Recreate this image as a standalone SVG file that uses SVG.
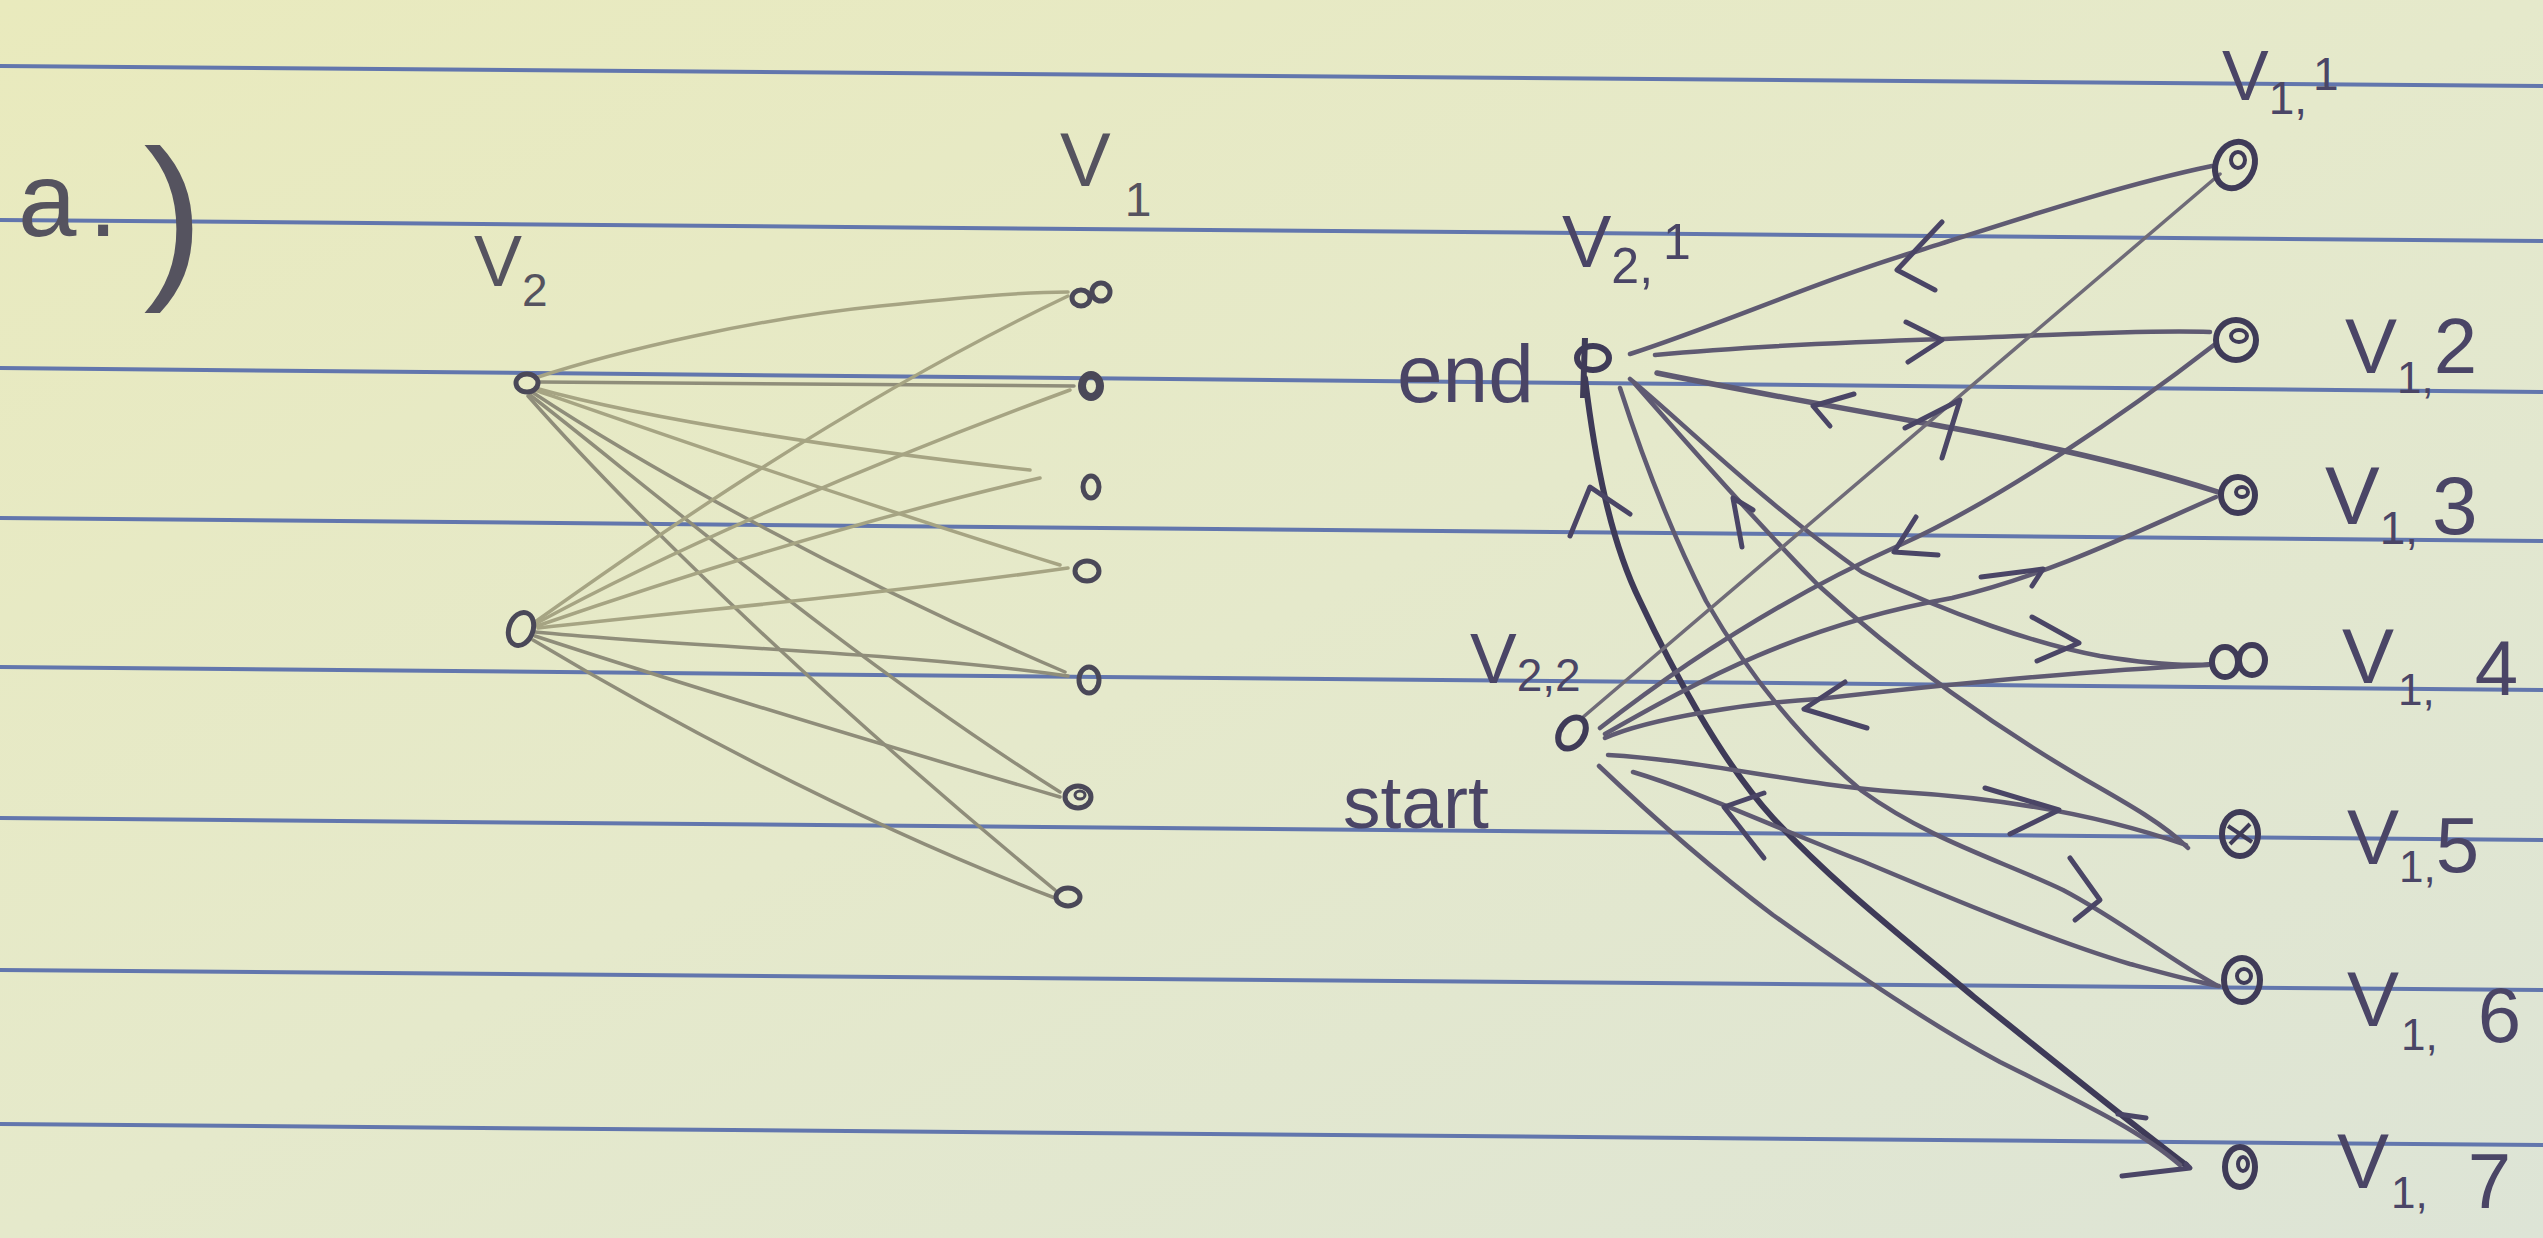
<svg xmlns="http://www.w3.org/2000/svg" width="2543" height="1238" viewBox="0 0 2543 1238">
<style>
.rule{stroke:#6276ad;stroke-width:4;fill:none}
.pale{stroke:#a6a483;stroke-width:3.5;fill:none;stroke-linecap:round}
.pale2{stroke:#8f8d7a;stroke-width:3.5;fill:none;stroke-linecap:round}
.ink{stroke:#5f5a72;stroke-width:4.5;fill:none;stroke-linecap:round;stroke-linejoin:round}
.thin{stroke:#6f6b78;stroke-width:3.5;fill:none;stroke-linecap:round}
.heavy{stroke:#3e3a58;stroke-width:6;fill:none;stroke-linecap:round;stroke-linejoin:round}
.arr{stroke:#4a4566;stroke-width:5;fill:none;stroke-linecap:round;stroke-linejoin:round}
.lnode{stroke:#4a4858;stroke-width:5;fill:none}
.rnode{stroke:#3f3b58;stroke-width:6;fill:none}
.lbl{font-family:'Liberation Sans','DejaVu Sans',sans-serif;fill:#4a4566}
.llbl{font-family:'Liberation Sans','DejaVu Sans',sans-serif;fill:#55535f}
</style>
<defs>
<linearGradient id="paper" x1="0" y1="0" x2="1" y2="1">
<stop offset="0" stop-color="#e9eabd"/>
<stop offset="0.5" stop-color="#e5e9cb"/>
<stop offset="1" stop-color="#dde4d6"/>
</linearGradient>
</defs>
<rect width="2543" height="1238" fill="url(#paper)"/>
<g id="ruled-lines">
<line class="rule" x1="0" y1="66" x2="2543" y2="86"/>
<line class="rule" x1="0" y1="220" x2="2543" y2="241"/>
<line class="rule" x1="0" y1="368" x2="2543" y2="392"/>
<line class="rule" x1="0" y1="518" x2="2543" y2="541"/>
<line class="rule" x1="0" y1="667" x2="2543" y2="690"/>
<line class="rule" x1="0" y1="818" x2="2543" y2="840"/>
<line class="rule" x1="0" y1="970" x2="2543" y2="990"/>
<line class="rule" x1="0" y1="1124" x2="2543" y2="1145"/>
</g>
<g id="title">
<text class="llbl" x="18" y="236" font-size="105">a<tspan dx="12">.</tspan><tspan font-size="180" dx="26" dy="40">)</tspan></text>
</g>
<g id="connectors">
<g id="left-edges">
<path class="pale" d="M535,378 C620,350 760,318 880,306 C960,298 1020,292 1068,292"/>
<path class="pale2" d="M540,382 L1074,386"/>
<path class="pale" d="M535,388 C650,420 850,450 1030,470"/>
<path class="pale" d="M535,390 C650,430 850,500 1060,565"/>
<path class="pale2" d="M532,392 C650,470 850,580 1065,672"/>
<path class="pale2" d="M530,395 C640,480 850,660 1060,792"/>
<path class="pale2" d="M528,396 C620,500 800,680 1055,890"/>
<path class="pale" d="M535,622 C650,540 850,400 1068,296"/>
<path class="pale" d="M535,624 C680,545 880,460 1070,390"/>
<path class="pale" d="M537,626 C700,570 880,515 1040,478"/>
<path class="pale" d="M538,628 C700,610 900,592 1068,568"/>
<path class="pale2" d="M535,632 C700,648 900,652 1068,676"/>
<path class="pale2" d="M535,636 C700,690 900,750 1060,797"/>
<path class="pale2" d="M533,640 C650,710 850,820 1055,898"/>
</g>
<g id="right-edges">
<path class="ink" d="M1630,354 C1720,325 1820,280 1921,250 C2010,222 2120,185 2212,166"/>
<path class="ink" d="M1655,355 C1750,346 1850,342 1944,339 C2050,335 2150,330 2210,332"/>
<path class="ink" style="stroke-width:5.5" d="M1657,373 C1740,390 1830,406 1952,428 C2060,448 2150,470 2218,492"/>
<path class="ink" d="M1630,379 C1680,420 1760,500 1862,572 C1950,615 2040,645 2100,656 C2150,664 2190,666 2212,664"/>
<path class="ink" d="M1635,384 C1680,435 1740,505 1818,585 C1900,660 2000,730 2086,780 C2130,805 2165,825 2188,848"/>
<path class="ink" d="M1620,388 C1640,450 1670,530 1706,601 C1740,660 1790,730 1862,791 C1930,840 2000,860 2063,890 C2120,920 2170,960 2216,985"/>
<path class="heavy" d="M1585,378 C1595,460 1610,540 1640,601 C1670,665 1720,760 1773,818 C1830,880 1900,935 1974,997 C2040,1050 2120,1115 2186,1165"/>
<path class="thin" d="M1582,718 L2220,174"/>
<path class="ink" d="M1600,728 C1700,650 1800,590 1900,545 C2000,500 2130,410 2214,345"/>
<path class="ink" d="M1605,734 C1700,680 1800,625 1952,598 C2050,575 2140,530 2216,497"/>
<path class="ink" d="M1605,738 C1650,718 1750,703 1818,699 C1950,684 2100,670 2208,665"/>
<path class="ink" d="M1608,755 C1700,760 1800,785 1900,792 C2000,798 2100,815 2186,845"/>
<path class="ink" d="M1633,772 C1700,792 1780,830 1862,861 C1950,898 2050,940 2130,964 C2170,975 2195,982 2219,986"/>
<path class="ink" d="M1599,766 C1640,805 1700,860 1773,915 C1850,970 1940,1030 2000,1062 C2080,1102 2140,1130 2180,1165"/>
</g>
<g id="arrowheads">
<path class="arr" d="M1942,222 L1897,270 L1935,290"/>
<path class="arr" d="M1906,322 L1942,340 L1908,362"/>
<path class="arr" d="M1854,394 L1813,406 L1830,426"/>
<path class="arr" d="M2032,617 L2079,643 L2037,661"/>
<path class="arr" d="M1742,547 L1733,498 L1753,510"/>
<path class="arr" d="M2070,858 L2100,900 L2075,920"/>
<path class="arr" d="M1570,536 L1590,487 L1630,514"/>
<path class="arr" d="M1905,428 L1960,400 L1942,458"/>
<path class="arr" d="M1916,517 L1894,552 L1938,555"/>
<path class="arr" d="M1981,577 L2043,569 L2032,586"/>
<path class="arr" d="M1845,682 L1804,709 L1867,728"/>
<path class="arr" d="M1985,788 L2059,810 L2010,834"/>
<path class="arr" d="M1764,793 L1724,807 L1764,858"/>
<path class="arr" d="M2118,1114 L2146,1118"/>
<path class="arr" d="M2186,1164 L2190,1168 L2122,1176"/>
</g>
</g>
<g id="left-V2">
<text class="llbl" x="474" y="286" font-size="72">V<tspan font-size="46" dy="20">2</tspan></text>
<g id="v2-top"><ellipse class="lnode" cx="527" cy="383" rx="11" ry="9"/></g>
<g id="v2-bottom"><ellipse class="lnode" cx="521" cy="629" rx="12" ry="17" transform="rotate(20 521 629)"/></g>
</g>
<g id="left-V1">
<text class="llbl" x="1060" y="186" font-size="76">V<tspan font-size="48" dx="14" dy="30">1</tspan></text>
<g id="v1-n1"><ellipse class="lnode" cx="1081" cy="298" rx="9" ry="8"/><ellipse class="lnode" cx="1101" cy="292" rx="9" ry="9"/></g>
<g id="v1-n2"><ellipse class="lnode" style="stroke-width:8" cx="1091" cy="386" rx="9" ry="11"/></g>
<g id="v1-n3"><ellipse class="lnode" cx="1091" cy="487" rx="8" ry="11"/></g>
<g id="v1-n4"><ellipse class="lnode" cx="1087" cy="571" rx="12" ry="10"/></g>
<g id="v1-n5"><ellipse class="lnode" cx="1089" cy="680" rx="10" ry="13"/></g>
<g id="v1-n6"><ellipse class="lnode" cx="1078" cy="797" rx="13" ry="11"/><ellipse class="lnode" style="stroke-width:3" cx="1080" cy="795" rx="5" ry="4"/></g>
<g id="v1-n7"><ellipse class="lnode" cx="1068" cy="897" rx="12" ry="9"/></g>
</g>
<g id="node-v21">
<text class="lbl" x="1562" y="267" font-size="74">V<tspan font-size="50" dy="16">2,</tspan><tspan font-size="50" dx="10" dy="-24">1</tspan></text>
<text class="lbl" x="1397" y="402" font-size="82">end</text>
<ellipse class="rnode" cx="1593" cy="358" rx="16" ry="12"/>
<path class="rnode" d="M1585,338 L1583,398"/>
</g>
<g id="node-v22">
<text class="lbl" x="1470" y="683" font-size="70">V<tspan font-size="46" dy="8">2,2</tspan></text>
<text class="lbl" x="1343" y="828" font-size="75">start</text>
<ellipse class="rnode" cx="1572" cy="733" rx="12" ry="17" transform="rotate(35 1572 733)"/>
</g>
<g id="node-v11">
<text class="lbl" x="2222" y="100" font-size="70">V<tspan font-size="46" dy="14">1,</tspan><tspan font-size="46" dx="6" dy="-24">1</tspan></text>
<ellipse class="rnode" cx="2235" cy="165" rx="19" ry="24" transform="rotate(25 2235 165)"/>
<ellipse class="rnode" style="stroke-width:4" cx="2238" cy="160" rx="7" ry="8"/>
</g>
<g id="node-v12">
<text class="lbl" x="2345" y="373" font-size="78">V<tspan font-size="44" dx="0" dy="20">1,</tspan><tspan dx="0" dy="-20">2</tspan></text>
<ellipse class="rnode" cx="2236" cy="340" rx="20" ry="20"/>
<ellipse class="rnode" style="stroke-width:4" cx="2239" cy="336" rx="8" ry="6"/>
</g>
<g id="node-v13">
<text class="lbl" x="2325" y="524" font-size="82">V<tspan font-size="46" dx="0" dy="20">1,</tspan><tspan dx="14" dy="-10">3</tspan></text>
<ellipse class="rnode" cx="2238" cy="495" rx="17" ry="18"/>
<ellipse class="rnode" style="stroke-width:4" cx="2242" cy="492" rx="6" ry="5"/>
</g>
<g id="node-v14">
<text class="lbl" x="2342" y="683" font-size="78">V<tspan font-size="44" dx="4" dy="22">1,</tspan><tspan dx="40" dy="-10">4</tspan></text>
<ellipse class="rnode" cx="2225" cy="662" rx="13" ry="15"/>
<ellipse class="rnode" cx="2252" cy="660" rx="13" ry="15"/>
</g>
<g id="node-v15">
<text class="lbl" x="2347" y="864" font-size="78">V<tspan font-size="44" dx="0" dy="18">1,</tspan><tspan dx="0" dy="-10">5</tspan></text>
<ellipse class="rnode" cx="2240" cy="834" rx="18" ry="22"/>
<path class="rnode" style="stroke-width:4" d="M2228,826 L2252,842 M2230,844 L2250,824"/>
</g>
<g id="node-v16">
<text class="lbl" x="2347" y="1026" font-size="78">V<tspan font-size="44" dx="2" dy="24">1,</tspan><tspan dx="40" dy="-8">6</tspan></text>
<ellipse class="rnode" cx="2242" cy="980" rx="18" ry="22"/>
<ellipse class="rnode" style="stroke-width:4" cx="2244" cy="976" rx="7" ry="7"/>
</g>
<g id="node-v17">
<text class="lbl" x="2337" y="1188" font-size="78">V<tspan font-size="44" dx="2" dy="20">1,</tspan><tspan dx="40" dy="0">7</tspan></text>
<ellipse class="rnode" cx="2240" cy="1167" rx="15" ry="20"/>
<ellipse class="rnode" style="stroke-width:4" cx="2243" cy="1164" rx="5" ry="7"/>
</g>
</svg>
